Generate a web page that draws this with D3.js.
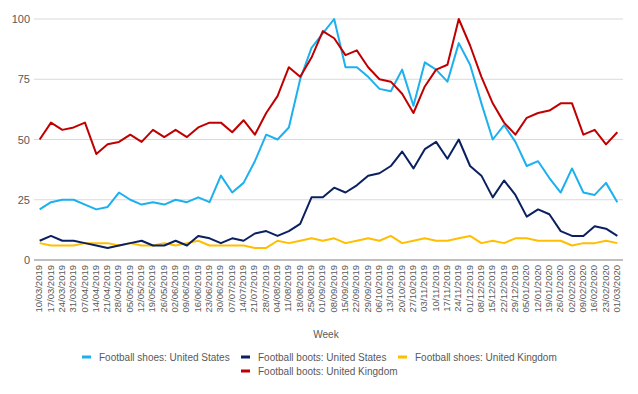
<!DOCTYPE html>
<html>
<head>
<meta charset="utf-8">
<script src="https://cdn.jsdelivr.net/npm/d3@7"></script>
<style>
  body { margin: 0; background: #fff; }
  text { font-family: "Liberation Sans", Arial, sans-serif; fill: #595959; }
</style>
</head>
<body>
<div class="container"></div>
<script>
// chart data, one value per week
const weeks = ["10/03/2019","17/03/2019","24/03/2019","31/03/2019","07/04/2019","14/04/2019","21/04/2019","28/04/2019",
  "05/05/2019","12/05/2019","19/05/2019","26/05/2019","02/06/2019","09/06/2019","16/06/2019","23/06/2019","30/06/2019",
  "07/07/2019","14/07/2019","21/07/2019","28/07/2019","04/08/2019","11/08/2019","18/08/2019","25/08/2019","01/09/2019",
  "08/09/2019","15/09/2019","22/09/2019","29/09/2019","06/10/2019","13/10/2019","20/10/2019","27/10/2019","03/11/2019",
  "10/11/2019","17/11/2019","24/11/2019","01/12/2019","08/12/2019","15/12/2019","22/12/2019","29/12/2019","05/01/2020",
  "12/01/2020","19/01/2020","26/01/2020","02/02/2020","09/02/2020","16/02/2020","23/02/2020","01/03/2020"];

const shoesUS = [21,24,25,25,23,21,22,28,25,23,24,23,25,24,26,24,35,28,32,41,52,50,55,75,88,94,100,80,80,76,71,70,79,64,
  82,79,74,90,81,65,50,56,49,39,41,34,28,38,28,27,32,24];
const bootsUS = [8,10,8,8,7,6,5,6,7,8,6,6,8,6,10,9,7,9,8,11,12,10,12,15,26,26,30,28,31,35,36,39,45,38,
  46,49,42,50,39,35,26,33,27,18,21,19,12,10,10,14,13,10];
const shoesUK = [7,6,6,6,7,7,7,6,7,6,6,7,6,7,8,6,6,6,6,5,5,8,7,8,9,8,9,7,8,9,8,10,7,8,
  9,8,8,9,10,7,8,7,9,9,8,8,8,6,7,7,8,7];
const bootsUK = [50,57,54,55,57,44,48,49,52,49,54,51,54,51,55,57,57,53,58,52,61,68,80,76,84,95,92,85,87,80,75,74,69,61,
  72,79,81,100,89,76,65,57,52,59,61,62,65,65,52,54,48,53];

const yTicks = [0, 25, 50, 75, 100];

const seriesNames = ["Football shoes: United States", "Football boots: United States",
  "Football shoes: United Kingdom", "Football boots: United Kingdom"];
const colors = ["#1cb0ef", "#0b2061", "#ffbf00", "#c00000"];

const width = 638;
const height = 394;
const margin = { top: 19, left: 34, right: 15, bottom: 134 };

const svg = d3.select(".container")
  .append("svg")
  .attr("width", width)
  .attr("height", height);

const xScale = d3.scalePoint()
  .domain(weeks)
  .range([margin.left, width - margin.right])
  .padding(0.5);

const yScale = d3.scaleLinear()
  .domain([0, 100])
  .range([height - margin.bottom, margin.top]);

// gridlines
svg.append("g")
  .selectAll("line")
  .data(yTicks.filter(d => d > 0))
  .join("line")
  .attr("x1", margin.left)
  .attr("x2", width - margin.right)
  .attr("y1", d => yScale(d))
  .attr("y2", d => yScale(d))
  .attr("stroke", "#d9d9d9")
  .attr("stroke-width", 1);

// y axis labels
const yAxis = svg.append("g")
  .attr("transform", `translate(${margin.left}, 0)`)
  .call(d3.axisLeft(yScale).tickValues(yTicks).tickSize(0).tickPadding(4));
yAxis.select(".domain").remove();
yAxis.selectAll("text").attr("font-size", "11px").attr("fill", "#595959")
  .style("font-family", "Liberation Sans, Arial, sans-serif");

// x axis
const xAxis = svg.append("g")
  .attr("transform", `translate(0, ${yScale(0)})`)
  .call(d3.axisBottom(xScale).tickSize(0).tickPadding(4));
xAxis.select(".domain")
  .attr("d", `M${margin.left},0H${width - margin.right}`)
  .attr("stroke", "#7f7f7f");
xAxis.selectAll("text")
  .attr("font-size", "9.5px")
  .attr("fill", "#595959")
  .style("font-family", "Liberation Sans, Arial, sans-serif")
  .attr("transform", "rotate(-90)")
  .attr("text-anchor", "end")
  .attr("dx", "-5px")
  .attr("dy", "-0.05em")
  .attr("x", 0)
  .attr("y", 0)
  .attr("dominant-baseline", "middle");

// axis title
svg.append("text")
  .attr("x", 326)
  .attr("y", 338)
  .attr("text-anchor", "middle")
  .attr("font-size", "10px")
  .text("Week");

// lines
const allSeries = [shoesUS, bootsUS, shoesUK, bootsUK];
const line = d3.line()
  .x((d, i) => xScale(weeks[i]))
  .y(d => yScale(d));

// draw in the order that matches the overlaps in the reference
[2, 1, 0, 3].forEach(k => {
  svg.append("path")
    .datum(allSeries[k])
    .attr("d", line)
    .attr("fill", "none")
    .attr("stroke", colors[k])
    .attr("stroke-width", 2)
    .attr("stroke-linejoin", "round");
});

// legend
const legendPos = [
  { x: 82, y: 357 },
  { x: 241, y: 357 },
  { x: 398, y: 357 },
  { x: 241, y: 371 }
];
const legend = svg.append("g")
  .selectAll("g")
  .data(seriesNames)
  .join("g")
  .attr("transform", (d, i) => `translate(${legendPos[i].x}, ${legendPos[i].y})`);

legend.append("rect")
  .attr("x", 0)
  .attr("y", -1.5)
  .attr("width", 9)
  .attr("height", 3)
  .attr("fill", (d, i) => colors[i]);

legend.append("text")
  .attr("x", 17)
  .attr("y", 3.5)
  .attr("font-size", "10px")
  .text(d => d);
</script>
</body>
</html>
